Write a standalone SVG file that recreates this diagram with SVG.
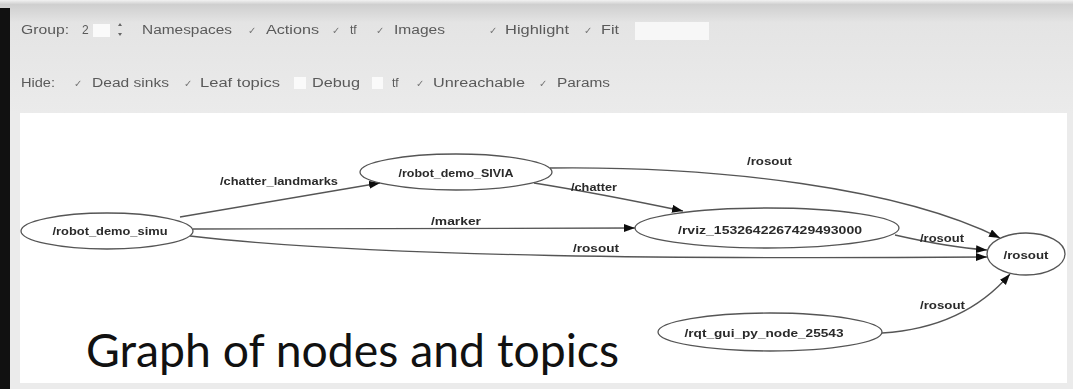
<svg xmlns="http://www.w3.org/2000/svg" width="1073" height="389" viewBox="0 0 1073 389">
<defs>
<linearGradient id="tb" x1="0" y1="0" x2="0" y2="1">
<stop offset="0" stop-color="#f2f2f2"/>
<stop offset="0.04" stop-color="#cfcfcf"/>
<stop offset="0.2" stop-color="#e4e4e4"/>
<stop offset="1" stop-color="#ebebeb"/>
</linearGradient>
<marker id="ah" markerWidth="12" markerHeight="10" refX="11" refY="4" orient="auto" markerUnits="userSpaceOnUse">
<path d="M0,0 L11,4 L0,8 Z" fill="#111"/>
</marker>
<filter id="soft" x="-5%" y="-20%" width="110%" height="140%"><feGaussianBlur stdDeviation="0.6"/></filter>
</defs>
<style>
.tb{font-family:"Liberation Sans",Arial,sans-serif;font-size:12px;fill:#5a5a5a}
.ck{font-family:"DejaVu Sans",sans-serif;font-size:10px;fill:#777}
.nd{fill:none;stroke:#555;stroke-width:1.3}
.nt{font-family:"Liberation Sans",Arial,sans-serif;font-size:10px;font-weight:bold;fill:#2a2a2a;text-anchor:middle;dominant-baseline:central}
.ed{fill:none;stroke:#555;stroke-width:1.3;marker-end:url(#ah)}
.el{font-family:"Liberation Sans",Arial,sans-serif;font-size:10px;font-weight:bold;fill:#2a2a2a;dominant-baseline:central}
.big{font-family:Lato,"Open Sans",sans-serif;font-size:47px;fill:#111}
</style>
<rect x="0" y="0" width="1073" height="389" fill="#ebebeb"/>
<rect x="0" y="0" width="1073" height="113" fill="url(#tb)"/>
<rect x="0" y="8" width="10" height="381" fill="#111"/>
<rect x="20" y="113" width="1047" height="270" fill="#ffffff"/>
<g id="toolbar" filter="url(#soft)">
<text class="tb" x="21" y="34" textLength="48" lengthAdjust="spacingAndGlyphs">Group:</text>
<text class="tb" x="82" y="34">2</text>
<rect x="93" y="24" width="17" height="13" fill="#fafafa"/>
<path d="M118,26 l2,-3 l2,3 z M118,33 l2,3 l2,-3 z" fill="#666"/>
<text class="tb" x="142" y="34" textLength="90" lengthAdjust="spacingAndGlyphs">Namespaces</text>
<text class="ck" x="248" y="34">✓</text>
<text class="tb" x="266" y="34" textLength="53" lengthAdjust="spacingAndGlyphs">Actions</text>
<text class="ck" x="332" y="34">✓</text>
<text class="tb" x="350" y="34">tf</text>
<text class="ck" x="376" y="34">✓</text>
<text class="tb" x="394" y="34" textLength="51" lengthAdjust="spacingAndGlyphs">Images</text>
<text class="ck" x="489" y="34">✓</text>
<text class="tb" x="505" y="34" textLength="64" lengthAdjust="spacingAndGlyphs">Highlight</text>
<text class="ck" x="584" y="34">✓</text>
<text class="tb" x="601" y="34" textLength="18" lengthAdjust="spacingAndGlyphs">Fit</text>
<rect x="635" y="22" width="74" height="18" fill="#f7f7f7"/>
<text class="tb" x="21" y="87" textLength="34" lengthAdjust="spacingAndGlyphs">Hide:</text>
<text class="ck" x="74" y="87">✓</text>
<text class="tb" x="92" y="87" textLength="77" lengthAdjust="spacingAndGlyphs">Dead sinks</text>
<text class="ck" x="184" y="87">✓</text>
<text class="tb" x="200" y="87" textLength="80" lengthAdjust="spacingAndGlyphs">Leaf topics</text>
<rect x="294" y="77" width="12" height="12" fill="#fafafa"/>
<text class="tb" x="312" y="87" textLength="48" lengthAdjust="spacingAndGlyphs">Debug</text>
<rect x="372" y="77" width="11" height="12" fill="#fafafa"/>
<text class="tb" x="392" y="87">tf</text>
<text class="ck" x="416" y="87">✓</text>
<text class="tb" x="433" y="87" textLength="92" lengthAdjust="spacingAndGlyphs">Unreachable</text>
<text class="ck" x="539" y="87">✓</text>
<text class="tb" x="557" y="87" textLength="53" lengthAdjust="spacingAndGlyphs">Params</text>
</g>
<g id="connectors" filter="url(#soft)">
<path class="ed" d="M180,217 C250,205 320,193 380,183"/>
<text class="el" x="220" y="181" textLength="118" lengthAdjust="spacingAndGlyphs">/chatter_landmarks</text>
<path class="ed" d="M550,168 C720,166 900,188 1000,238"/>
<text class="el" x="747" y="161" textLength="45" lengthAdjust="spacingAndGlyphs">/rosout</text>
<path class="ed" d="M534,183 C590,192 640,202 683,211"/>
<text class="el" x="571" y="187" textLength="46" lengthAdjust="spacingAndGlyphs">/chatter</text>
<path class="ed" d="M193,229 L635,228"/>
<text class="el" x="431" y="221" textLength="50" lengthAdjust="spacingAndGlyphs">/marker</text>
<path class="ed" d="M190,236 C380,258 700,259 987,257"/>
<text class="el" x="573" y="248" textLength="46" lengthAdjust="spacingAndGlyphs">/rosout</text>
<path class="ed" d="M895,235 C930,243 960,248 987,250"/>
<text class="el" x="920" y="238" textLength="44" lengthAdjust="spacingAndGlyphs">/rosout</text>
<path class="ed" d="M882,333 C930,330 975,315 1010,274"/>
<text class="el" x="920" y="305" textLength="45" lengthAdjust="spacingAndGlyphs">/rosout</text>
</g>
<g id="node_simu" filter="url(#soft)">
<ellipse class="nd" cx="107" cy="231" rx="86" ry="18"/>
<text class="nt" x="110" y="231" textLength="115" lengthAdjust="spacingAndGlyphs">/robot_demo_simu</text>
</g>
<g id="node_sivia" filter="url(#soft)">
<ellipse class="nd" cx="456" cy="172" rx="96" ry="18"/>
<text class="nt" x="456" y="173" textLength="115" lengthAdjust="spacingAndGlyphs">/robot_demo_SIVIA</text>
</g>
<g id="node_rviz" filter="url(#soft)">
<ellipse class="nd" cx="767" cy="228" rx="132" ry="20"/>
<text class="nt" x="770" y="230" textLength="184" lengthAdjust="spacingAndGlyphs">/rviz_1532642267429493000</text>
</g>
<g id="node_rosout" filter="url(#soft)">
<ellipse class="nd" cx="1026" cy="254" rx="39" ry="21"/>
<text class="nt" x="1026" y="255" textLength="45" lengthAdjust="spacingAndGlyphs">/rosout</text>
</g>
<g id="node_rqt" filter="url(#soft)">
<ellipse class="nd" cx="770" cy="332" rx="112" ry="19"/>
<text class="nt" x="764" y="333" textLength="159" lengthAdjust="spacingAndGlyphs">/rqt_gui_py_node_25543</text>
</g>
<text class="big" x="86" y="367" textLength="533" lengthAdjust="spacingAndGlyphs">Graph of nodes and topics</text>
</svg>
